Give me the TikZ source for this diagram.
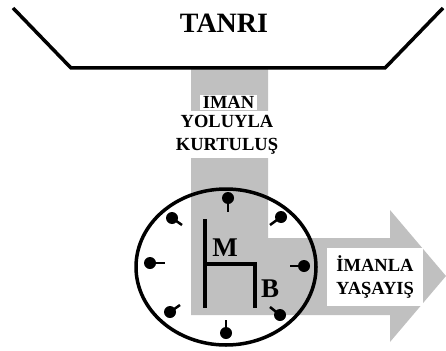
\documentclass[tikz,border=0pt]{standalone}
\usepackage{fontspec}
\setmainfont{Liberation Serif}
\definecolor{flowgray}{RGB}{192,192,192}
\begin{document}
\begin{tikzpicture}[x=1pt,y=-1pt,
  thickline/.style={line width=3.5pt},
  whitebox/.style={fill=white,inner sep=0pt,align=center,font=\bfseries\fontsize{18.5}{23}\selectfont},
  tickdot/.style={circle,fill=black,inner sep=0pt,minimum size=12pt},
  bigletter/.style={font=\bfseries\fontsize{27}{29}\selectfont,inner sep=0pt}]
\useasboundingbox (0,0) rectangle (446,350);
% gray path: vertical bar and arrow
\fill[flowgray] (191,69) -- (268,69) -- (268,238) -- (390,238) -- (390,210)
  -- (446,276) -- (390,342) -- (390,315) -- (191,315) -- cycle;
% top frame
\draw[thickline,line join=miter] (13,8) -- (71,68) -- (385,68) -- (443,8);
\node[font=\bfseries\fontsize{28}{30}\selectfont,anchor=base,inner sep=0pt] (tanri) at (224,33) {TANRI};
% labels on the bar
\node[whitebox,minimum width=57pt,minimum height=15pt] (iman) at (228.5,102.5) {IMAN};
\node[whitebox,minimum width=108pt,minimum height=47pt] (yol) at (227,134.5) {YOLUYLA\\KURTULUŞ};
% clock
\draw[thickline] (226,267) ellipse [x radius=90, y radius=78];
\foreach \dx/\dy/\sx/\sy [count=\i] in {228/198/228/212, 281/217/270/225, 304/266/290/266, 280/315/270/307,
  226/333/226/320, 170/312/180/305, 150/263/165/263, 172/218/182/225}{
  \node[tickdot] (d\i) at (\dx,\dy) {};
  \coordinate (s\i) at (\sx,\sy);
  \draw[line width=2.5pt] (d\i.center) -- (s\i);
}
% chair M B
\coordinate (c1) at (205,219);
\coordinate (c2) at (205,308);
\coordinate (c3) at (205,264);
\coordinate (c4) at (255,264);
\coordinate (c5) at (255,308);
\draw[thickline] (c1) -- (c2);
\draw[thickline,line join=miter] (c3) -- (c4) -- (c5);
\node[bigletter] (m) at (225,248) {M};
\node[bigletter] (b) at (270,289) {B};
% arrow label
\node[whitebox,minimum width=96pt,minimum height=58pt] (yasayis) at (375,277) {İMANLA\\YAŞAYIŞ};
\end{tikzpicture}
\end{document}
